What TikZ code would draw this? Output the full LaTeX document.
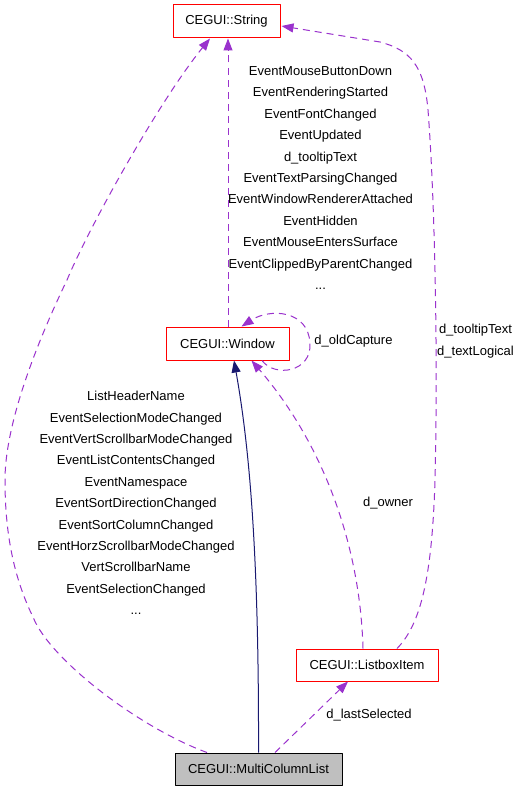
\documentclass[tikz,border=0pt]{standalone}
\usepackage{fontspec}
\setmainfont{Liberation Sans}
\usetikzlibrary{arrows.meta,positioning,calc}
\definecolor{edgepurple}{HTML}{9A32CD}
\definecolor{edgenavy}{HTML}{191970}
\definecolor{boxred}{HTML}{FF0000}
\definecolor{boxgray}{HTML}{BFBFBF}

\begin{document}
\begin{tikzpicture}[
		x=1pt,y=-1pt,
		line join=round,
		classbox/.style={draw=boxred, line width=1pt, fill=white, minimum height=33pt, inner sep=0pt, font=\fontsize{13}{15}\selectfont},
		rootbox/.style={classbox, draw=black, fill=boxgray},
		edgelabel/.style={font=\fontsize{13}{21.4}\selectfont, align=center, inner sep=0pt},
		usage/.style={-{Triangle[length=12pt,width=9pt]}, draw=edgepurple, line width=1pt, dash pattern=on 7pt off 5pt},
		inherit/.style={-{Triangle[length=12pt,width=9pt]}, draw=edgenavy, line width=1pt}
	]
	
	% Canvas
	\fill[white] (0,0) rectangle (520,792);
	\useasboundingbox (0,0) rectangle (520,792);
	
	% Classes
	\node[classbox, minimum width=107pt] (string) at (226.5,21.5) {CEGUI::String};
	\node[classbox, minimum width=123pt] (window) at (227.5,343.5) {CEGUI::Window};
	\node[classbox, minimum width=142pt, minimum height=32pt] (item) at (367,665) {CEGUI::ListboxItem};
	\node[rootbox, minimum width=167pt, minimum height=32pt] (mclist) at (258.5,769) {CEGUI::MultiColumnList};
	
	% Inheritance
	\draw[inherit] (mclist.north) .. controls (259,560) and (250,450) .. ($(window.south)+(6.5,0)$);
	
	% Window -> String
	\draw[usage] ($(window.north)+(0.5,0)$) -- ($(string.south)+(1.5,0)$);
	\node[edgelabel] (winlabels) at (320.5,178) {EventMouseButtonDown\\EventRenderingStarted\\EventFontChanged\\EventUpdated\\d\_tooltipText\\EventTextParsingChanged\\EventWindowRendererAttached\\EventHidden\\EventMouseEntersSurface\\EventClippedByParentChanged\\...};
	
	% Window -> Window
	\draw[usage] ($(window.south)+(34.5,0)$) .. controls (275,378) and (312,372) .. (310,343)
		.. controls (308,310) and (270,308) .. ($(window.north)+(14,0)$);
	\node[edgelabel] (looplabel) at (353.5,341) {d\_oldCapture};
	
	% MultiColumnList -> String
	\draw[usage] ($(mclist.north)+(-51.5,0)$) .. controls (140,728) and (50,660) .. (33,617)
		.. controls (11,572) and (5,525) .. (5,480)
		.. controls (5,420) and (41,334) .. (67,280)
		.. controls (90,225) and (160,100) .. ($(string.south)+(-16.5,0)$);
	\node[edgelabel] (mclabels) at (136,503) {ListHeaderName\\EventSelectionModeChanged\\EventVertScrollbarModeChanged\\EventListContentsChanged\\EventNamespace\\EventSortDirectionChanged\\EventSortColumnChanged\\EventHorzScrollbarModeChanged\\VertScrollbarName\\EventSelectionChanged\\...};
	
	% ListboxItem -> Window
	\draw[usage] ($(item.north)+(-4,0)$) .. controls (360,540) and (320,440) .. ($(window.south)+(24,0)$);
	\node[edgelabel] (ownerlabel) at (388,503) {d\_owner};
	
	% ListboxItem -> String
	\draw[usage] ($(item.north)+(30,0)$) .. controls (420,625) and (432,580) .. (435,480)
		.. controls (438,360) and (435,200) .. (428,110)
		.. controls (424,65) and (410,50) .. (380,42)
		-- ($(string.east)+(1,4.5)$);
	\node[edgelabel] (itemlabels) at (475.5,341) {d\_tooltipText\\d\_textLogical};
	
	% MultiColumnList -> ListboxItem
	\draw[usage] ($(mclist.north)+(16.5,0)$) -- ($(item.south)+(-19,0)$);
	\node[edgelabel] (lastlabel) at (369,715) {d\_lastSelected};
	
\end{tikzpicture}
\end{document}
